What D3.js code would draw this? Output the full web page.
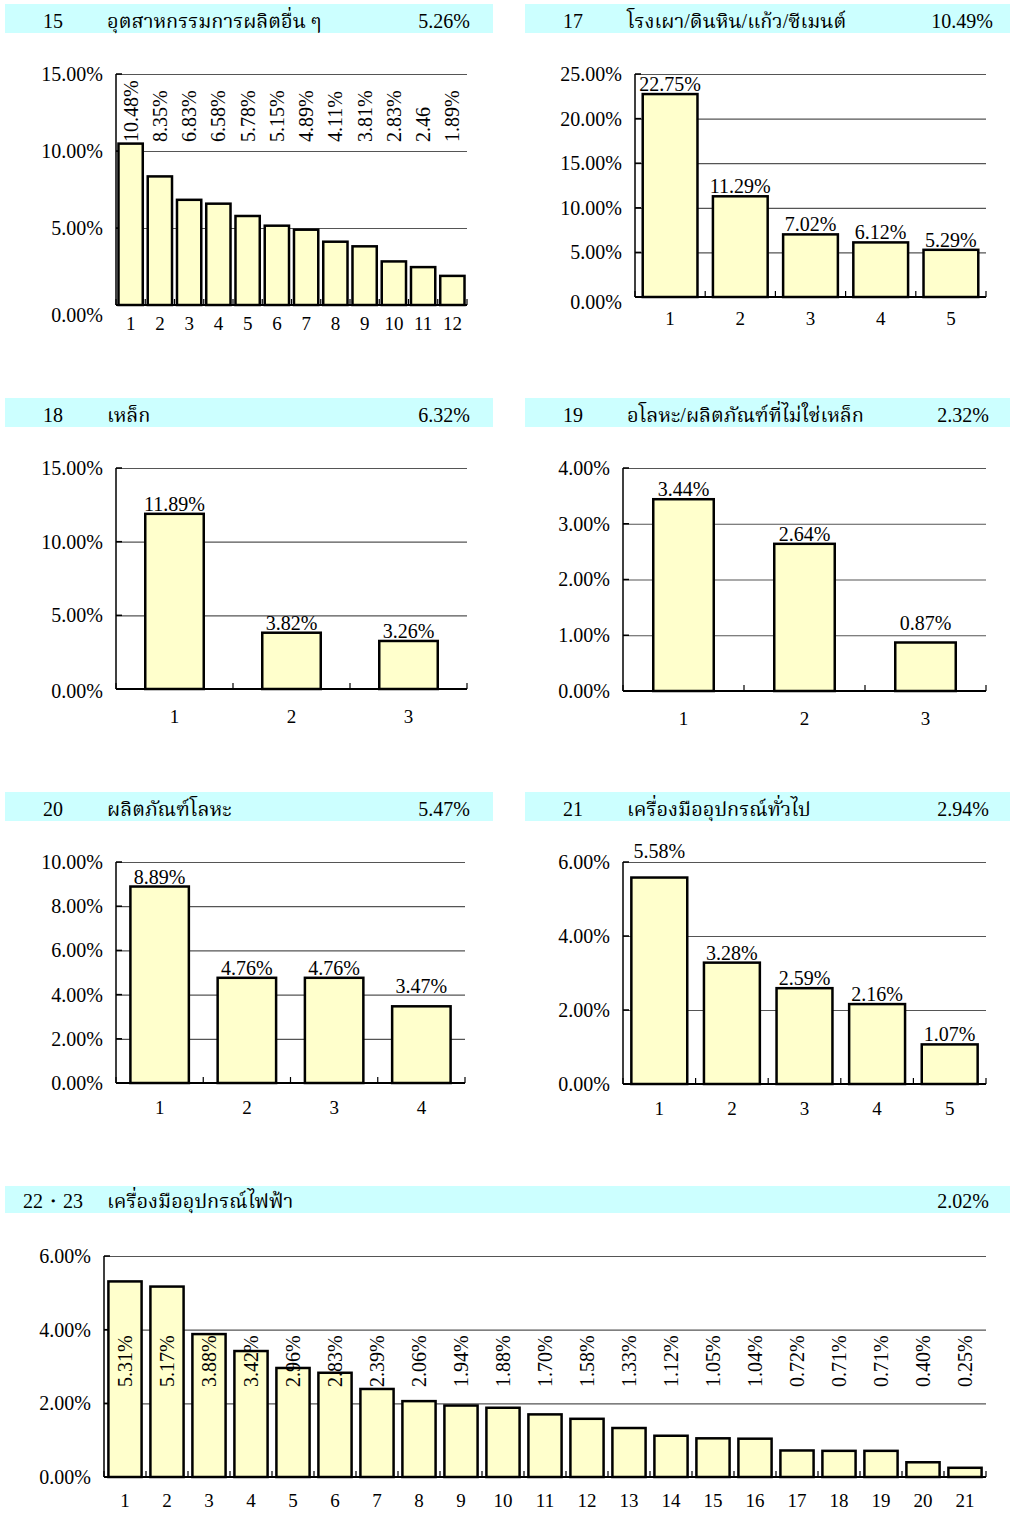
<!DOCTYPE html>
<html>
<head>
<meta charset="utf-8">
<script src="https://cdn.jsdelivr.net/npm/d3@7"></script>
<style>
body { margin: 0; background: #fff; }
text { font-family: "Liberation Serif", "Times New Roman", "Noto Serif Thai", "Noto Sans Thai", "Loma", "Norasi", serif; fill: #000; }
</style>
</head>
<body>
<div id="chart"></div>
<script>
// header texts
var codes  = ['15', '17', '18', '19', '20', '21', '22・23']
var titles = ['อุตสาหกรรมการผลิตอื่น ๆ', 'โรงเผา/ดินหิน/แก้ว/ซีเมนต์', 'เหล็ก',
	'อโลหะ/ผลิตภัณฑ์ที่ไม่ใช่เหล็ก', 'ผลิตภัณฑ์โลหะ', 'เครื่องมืออุปกรณ์ทั่วไป', 'เครื่องมืออุปกรณ์ไฟฟ้า']
var shares = ['5.26%', '10.49%', '6.32%', '2.32%', '5.47%', '2.94%', '2.02%']

// series values (percent)
var values15 = [10.48, 8.35, 6.83, 6.58, 5.78, 5.15, 4.89, 4.11, 3.81, 2.83, 2.46, 1.89]
var labels15 = ['10.48%', '8.35%', '6.83%', '6.58%', '5.78%', '5.15%', '4.89%', '4.11%', '3.81%', '2.83%', '2.46', '1.89%']
var values17 = [22.75, 11.29, 7.02, 6.12, 5.29]
var values18 = [11.89, 3.82, 3.26]
var values19 = [3.44, 2.64, 0.87]
var values20 = [8.89, 4.76, 4.76, 3.47]
var values21 = [5.58, 3.28, 2.59, 2.16, 1.07]
var values22 = [5.31, 5.17, 3.88, 3.42, 2.96, 2.83, 2.39, 2.06, 1.94, 1.88, 1.70,
	1.58, 1.33, 1.12, 1.05, 1.04, 0.72, 0.71, 0.71, 0.40, 0.25]

// y axis ticks
var yTicks15 = [0, 5, 10, 15]
var yTicks17 = [0, 5, 10, 15, 20, 25]
var yTicks18 = [0, 5, 10, 15]
var yTicks19 = [0, 1, 2, 3, 4]
var yTicks20 = [0, 2, 4, 6, 8, 10]
var yTicks21 = [0, 2, 4, 6]
var yTicks22 = [0, 2, 4, 6]

var pct = d3.format('.2f')
function makeLabels(vals) { return vals.map(function(v) { return pct(v) + '%' }) }

var panels = [
	{ values: values15, labels: labels15, ticks: yTicks15 },
	{ values: values17, labels: makeLabels(values17), ticks: yTicks17 },
	{ values: values18, labels: makeLabels(values18), ticks: yTicks18 },
	{ values: values19, labels: makeLabels(values19), ticks: yTicks19 },
	{ values: values20, labels: makeLabels(values20), ticks: yTicks20 },
	{ values: values21, labels: makeLabels(values21), ticks: yTicks21 },
	{ values: values22, labels: makeLabels(values22), ticks: yTicks22 }
]

// layout per panel
var layout = [
	{ bx: 5,   bw: 488,  by: 4,    bh: 29, shareX: 470, x0: 116, x1: 467, top: 74,   zero: 305,  pad: 0.17, rot: 142,  xGap: 12, zeroDrop: 10 },
	{ bx: 525, bw: 485,  by: 4,    bh: 29, shareX: 993, x0: 635, x1: 986, top: 74,   zero: 297,  pad: 0.22, xGap: 15, zeroDrop: 5 },
	{ bx: 5,   bw: 488,  by: 398,  bh: 29, shareX: 470, x0: 116, x1: 467, top: 468,  zero: 689,  pad: 0.5,  xGap: 21, zeroDrop: 2 },
	{ bx: 525, bw: 485,  by: 398,  bh: 29, shareX: 989, x0: 623, x1: 986, top: 468,  zero: 691,  pad: 0.5,  xGap: 21, lift: { 2: 9 } },
	{ bx: 5,   bw: 488,  by: 792,  bh: 29, shareX: 470, x0: 116, x1: 465, top: 862,  zero: 1083, pad: 0.33, xGap: 18, lift: { 3: 10 } },
	{ bx: 525, bw: 485,  by: 792,  bh: 29, shareX: 989, x0: 623, x1: 986, top: 862,  zero: 1084, pad: 0.23, xGap: 18, lift: { 0: 17 } },
	{ bx: 5,   bw: 1005, by: 1186, bh: 27, shareX: 989, x0: 104, x1: 986, top: 1256, zero: 1477, pad: 0.21, rot: 1387, xGap: 17 }
]

var w = 1010
var h = 1515

var svg = d3.select('#chart')
	.append('svg')
	.attr('width', w)
	.attr('height', h)

function drawPanel(p, i) {
	var L = layout[i]
	var g = svg.append('g')

	// header band
	g.append('rect')
		.attr('x', L.bx).attr('y', L.by)
		.attr('width', L.bw).attr('height', L.bh)
		.attr('fill', '#ccffff')
	var base = L.by + L.bh - 5
	g.append('text').attr('x', L.bx + (i == 6 ? 18 : 38)).attr('y', base)
		.style('font-size', '20px').text(codes[i])
	g.append('text').attr('x', L.bx + 102).attr('y', base)
		.style('font-size', '20px').text(titles[i])
	g.append('text').attr('x', L.shareX).attr('y', base)
		.attr('text-anchor', 'end')
		.style('font-size', '20px').text(shares[i])

	var n = p.values.length
	var xScale = d3.scaleBand()
		.domain(d3.range(1, n + 1))
		.range([L.x0, L.x1])
		.paddingInner(L.pad)
		.paddingOuter(L.pad / 2)

	var yScale = d3.scaleLinear()
		.domain([0, d3.max(p.ticks)])
		.range([L.zero, L.top])

	// gridlines + y labels
	var yAxis = d3.axisLeft(yScale)
		.tickValues(p.ticks)
		.tickSizeInner(-(L.x1 - L.x0))
		.tickSizeOuter(0)
		.tickPadding(13)
		.tickFormat(function(d) { return pct(d) + '%' })

	var yg = g.append('g')
		.attr('transform', 'translate(' + L.x0 + ',0)')
		.call(yAxis)
	yg.select('.domain').remove()
	yg.selectAll('line').attr('stroke', '#555').attr('stroke-width', 1.2)
	yg.selectAll('text')
		.style('font-size', '20px')
		.style('font-family', null)
		.attr('fill', '#000')
		.attr('y', function(d) { return d == 0 ? (L.zeroDrop || 0) : 0 })

	// short inside ticks on y axis
	g.selectAll('.ytick')
		.data(p.ticks)
		.enter()
		.append('line')
		.attr('x1', L.x0).attr('x2', L.x0 + 6)
		.attr('y1', function(d) { return yScale(d) }).attr('y2', function(d) { return yScale(d) })
		.attr('stroke', '#000').attr('stroke-width', 1.5)

	// bars
	g.selectAll('.bar')
		.data(p.values)
		.enter()
		.append('rect')
		.attr('x', function(d, j) { return xScale(j + 1) })
		.attr('y', function(d) { return yScale(d) })
		.attr('width', xScale.bandwidth())
		.attr('height', function(d) { return yScale(0) - yScale(d) })
		.attr('fill', '#ffffcc')
		.attr('stroke', '#000')
		.attr('stroke-width', 2.5)

	// axis lines
	g.append('line')
		.attr('x1', L.x0).attr('x2', L.x0)
		.attr('y1', L.top).attr('y2', L.zero)
		.attr('stroke', '#000').attr('stroke-width', 1.5)
	g.append('line')
		.attr('x1', L.x0).attr('x2', L.x1)
		.attr('y1', L.zero).attr('y2', L.zero)
		.attr('stroke', '#000').attr('stroke-width', 2)

	// category boundary ticks
	var step = xScale.step()
	g.selectAll('.xtick')
		.data(d3.range(n + 1))
		.enter()
		.append('line')
		.attr('x1', function(k) { return L.x0 + k * step })
		.attr('x2', function(k) { return L.x0 + k * step })
		.attr('y1', L.zero).attr('y2', L.zero - 6)
		.attr('stroke', '#000').attr('stroke-width', 1.2)

	// x labels
	var xAxis = d3.axisBottom(xScale)
		.tickSize(0)
		.tickPadding(L.xGap)
	var xg = g.append('g')
		.attr('transform', 'translate(0,' + L.zero + ')')
		.call(xAxis)
	xg.select('.domain').remove()
	xg.selectAll('text')
		.style('font-size', '19px')
		.style('font-family', null)
		.attr('fill', '#000')

	// value labels
	if (L.rot) {
		g.selectAll('.val')
			.data(p.labels)
			.enter()
			.append('text')
			.attr('transform', function(d, j) {
				return 'translate(' + (xScale(j + 1) + xScale.bandwidth() / 2) + ',' + L.rot + ') rotate(-90)'
			})
			.attr('dy', '0.35em')
			.style('font-size', '20px')
			.text(function(d) { return d })
	} else {
		g.selectAll('.val')
			.data(p.labels)
			.enter()
			.append('text')
			.attr('x', function(d, j) { return xScale(j + 1) + xScale.bandwidth() / 2 })
			.attr('y', function(d, j) {
				var lift = (L.lift && L.lift[j]) || 0
				return yScale(p.values[j]) - 3 - lift
			})
			.attr('text-anchor', 'middle')
			.style('font-size', '20px')
			.text(function(d) { return d })
	}
}

panels.forEach(drawPanel)
</script>
</body>
</html>
